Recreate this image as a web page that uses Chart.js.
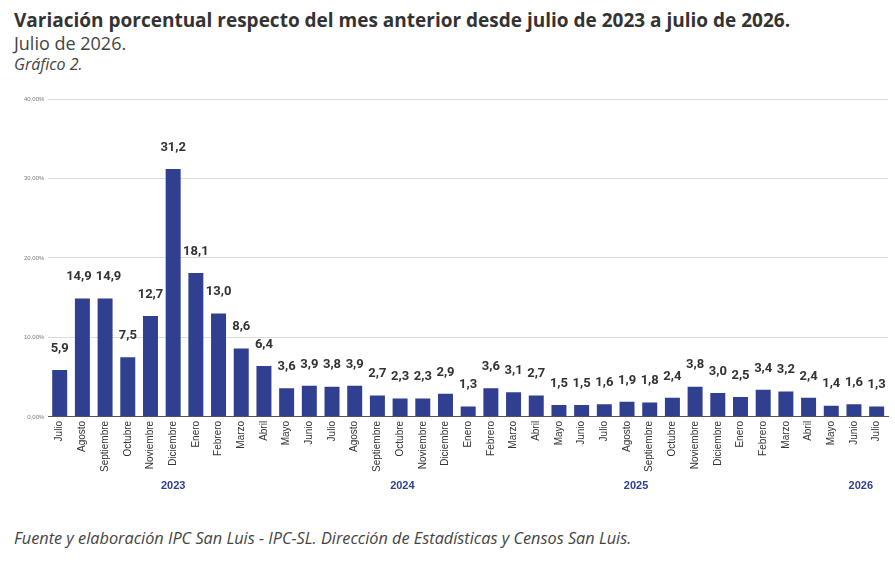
<!DOCTYPE html>
<html lang="es">
<head>
<meta charset="utf-8">
<script src="https://cdn.jsdelivr.net/npm/chart.js@4"></script>
<style>
  body { margin: 0; background: #fff; width: 895px; height: 561px; overflow: hidden; position: relative; font-family: "Open Sans", "Noto Sans", sans-serif; color: #333; }
  #head { position: absolute; left: 14px; top: 8px; }
  #head .t { font-weight: 700; font-size: 19px; line-height: 24px; color: #333; }
  #head .s { font-size: 18px; line-height: 22px; color: #444; }
  #head .g { font-size: 16px; line-height: 20px; font-style: italic; color: #444; }
  #wrap { position: absolute; left: 0; top: 89px; width: 895px; height: 415px; }
  #foot { position: absolute; left: 14px; top: 527px; font-size: 16.3px; font-style: italic; color: #444; }
</style>
</head>
<body>
<div id="head">
  <div class="t">Variación porcentual respecto del mes anterior desde julio de 2023 a julio de 2026.</div>
  <div class="s">Julio de 2026.</div>
  <div class="g">Gráfico 2.</div>
</div>
<div id="wrap"><canvas id="ipcChart"></canvas></div>
<div id="foot">Fuente y elaboración IPC San Luis - IPC-SL. Dirección de Estadísticas y Censos San Luis.</div>
<script>
// months from julio 2023 to julio 2026
const meses = [
  'Julio', 'Agosto', 'Septiembre', 'Octubre', 'Noviembre', 'Diciembre',
  'Enero', 'Febrero', 'Marzo', 'Abril', 'Mayo', 'Junio', 'Julio', 'Agosto', 'Septiembre', 'Octubre', 'Noviembre', 'Diciembre',
  'Enero', 'Febrero', 'Marzo', 'Abril', 'Mayo', 'Junio', 'Julio', 'Agosto', 'Septiembre', 'Octubre', 'Noviembre', 'Diciembre',
  'Enero', 'Febrero', 'Marzo', 'Abril', 'Mayo', 'Junio', 'Julio'
];

// monthly variation (%)
const variacion = [
  5.9, 14.9, 14.9, 7.5, 12.7, 31.2,
  18.1, 13.0, 8.6, 6.4, 3.6, 3.9, 3.8, 3.9, 2.7, 2.3, 2.3, 2.9,
  1.3, 3.6, 3.1, 2.7, 1.5, 1.5, 1.6, 1.9, 1.8, 2.4, 3.8, 3.0,
  2.5, 3.4, 3.2, 2.4, 1.4, 1.6, 1.3
];

// year captions under the month labels and the bar index they sit under
const anios = ['2023', '2024', '2025', '2026'];
const aniosPos = [5, 15.1, 25.4, 35.3];

const yTicks = [0, 10, 20, 30, 40];

const BAR_COLOR = '#303f8f';

function fmtComa(v, dec) {
    return v.toFixed(dec).replace('.', ',');
}

// value labels above each bar, nudged apart when two neighbours collide
const valueLabels = {
    id: 'valueLabels',
    afterDatasetsDraw(chart) {
        const ctx = chart.ctx;
        const meta = chart.getDatasetMeta(0);
        ctx.save();
        ctx.font = 'bold 13px Roboto, "Liberation Sans", Arial, sans-serif';
        ctx.fillStyle = '#333';
        ctx.textAlign = 'center';
        ctx.textBaseline = 'bottom';
        const boxes = meta.data.map((bar, i) => {
            const text = fmtComa(variacion[i], 1);
            return { text, x: bar.x, y: bar.y - 15, w: ctx.measureText(text).width };
        });
        for (let i = 1; i < boxes.length; i++) {
            const a = boxes[i - 1], b = boxes[i];
            if (Math.abs(a.y - b.y) > 12) continue;
            const overlap = (a.x + a.w / 2 + 4) - (b.x - b.w / 2);
            if (overlap > 0) {
                a.x -= overlap / 2;
                b.x += overlap / 2;
            }
        }
        boxes.forEach(b => ctx.fillText(b.text, b.x, b.y));
        ctx.restore();
    }
};

// year captions drawn under the x axis
const yearLabels = {
    id: 'yearLabels',
    afterDraw(chart) {
        const ctx = chart.ctx;
        const x = chart.scales.x;
        ctx.save();
        ctx.font = 'bold 11px "Liberation Sans", Arial, sans-serif';
        ctx.fillStyle = BAR_COLOR;
        ctx.textAlign = 'center';
        ctx.textBaseline = 'middle';
        anios.forEach((a, i) => {
            const p = aniosPos[i];
            const lo = Math.floor(p);
            const px = x.getPixelForValue(lo) + (p - lo) * (x.getPixelForValue(lo + 1) - x.getPixelForValue(lo));
            ctx.fillText(a, px, x.bottom + 10);
        });
        ctx.restore();
    }
};

const ctx = document.getElementById('ipcChart').getContext('2d');
new Chart(ctx, {
    type: 'bar',
    data: {
        labels: meses,
        datasets: [{
            label: 'Variación %',
            data: variacion,
            backgroundColor: BAR_COLOR,
            borderWidth: 0,
            barPercentage: 0.66,
            categoryPercentage: 1.0
        }]
    },
    options: {
        responsive: true,
        maintainAspectRatio: false,
        animation: false,
        layout: { padding: { left: 20, right: 7, top: 10, bottom: 28 } },
        plugins: {
            legend: { display: false },
            tooltip: { enabled: false }
        },
        scales: {
            x: {
                grid: { display: false, drawTicks: false },
                border: { display: true, color: '#555', width: 1 },
                ticks: {
                    minRotation: 90,
                    maxRotation: 90,
                    autoSkip: false,
                    padding: 4,
                    color: '#333',
                    font: { family: '"Liberation Sans", Arial, sans-serif', size: 10 }
                }
            },
            y: {
                min: 0,
                max: 40,
                afterBuildTicks(scale) {
                    scale.ticks = yTicks.map(v => ({ value: v }));
                },
                grid: { color: '#dcdcdc', drawTicks: false },
                border: { display: false },
                ticks: {
                    padding: 4,
                    color: '#777',
                    font: { family: '"Liberation Sans", Arial, sans-serif', size: 6 },
                    callback: v => fmtComa(v, 2) + '%'
                }
            }
        }
    },
    plugins: [valueLabels, yearLabels]
});
</script>
</body>
</html>
